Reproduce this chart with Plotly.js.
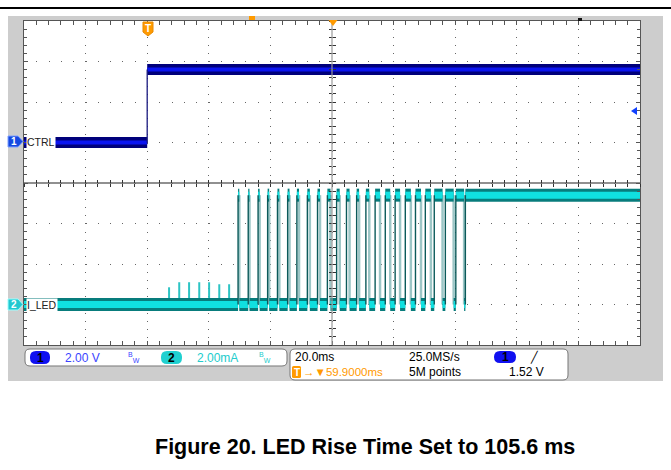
<!DOCTYPE html>
<html><head><meta charset="utf-8">
<script src="https://cdn.plot.ly/plotly-3.0.1.min.js"></script>
<style>html,body{margin:0;padding:0;background:#fff;}#chart{width:671px;height:470px;}</style>
</head><body><div id="chart"></div>
<script>
// ---------- data (time in ms relative to trigger) ----------
const timeRangeMs = [-40, 160];
const ctrlStepMs = 0;
const ctrlLowV = 0;
const ctrlHighV = 3.6;
const ledLowMa = 0;
const ledHighMa = 5.4;
const ledRiseMs = [29.5, 32.8, 36.0, 39.1, 42.3, 45.6, 48.6, 52.0, 55.3, 58.5, 61.5, 64.7, 68.0, 71.0, 74.0, 77.3, 80.5, 83.8, 87.1, 90.3, 93.2, 96.8, 100.2, 103.3];
const ledFallMs = [29.9, 33.2, 36.5, 39.6, 42.9, 46.2, 49.3, 52.8, 56.1, 59.5, 62.5, 65.7, 68.8, 72.1, 75.6, 78.9, 82.1, 85.6, 88.9, 92.1, 95.9, 99.5, 102.9];
const preSpikeMs = [7.1, 10.4, 13.6, 16.9, 20.1, 23.4, 26.6];
const preSpikeMa = [0.85, 1.1, 1.1, 1.1, 1.1, 1.0, 1.0];
const ch1Scale = "2.00 V";
const ch2Scale = "2.00mA";
const timeScale = "20.0ms";
const sampleRate = "25.0MS/s";
const recordLen = "5M points";
const trigDelay = "\u2192\u25BC59.9000ms";
const trigLevel = "1.52 V";
const ch1Label = "CTRL";
const ch2Label = "I_LED";
const caption = "Figure 20. LED Rise Time Set to 105.6 ms";

// ---------- geometry helpers (layout only) ----------
const L = 24, R = 640, T = 21, B = 345;
const px = x => (x - L) / (R - L);
const py = y => (B - y) / (B - T);
function P(x, y) { return px(x).toFixed(5) + ',' + py(y).toFixed(5); }
function rrect(x0, y0, x1, y1, r) {
  return `M${P(x0 + r, y0)} L${P(x1 - r, y0)} Q${P(x1, y0)} ${P(x1, y0 + r)} L${P(x1, y1 - r)} Q${P(x1, y1)} ${P(x1 - r, y1)} L${P(x0 + r, y1)} Q${P(x0, y1)} ${P(x0, y1 - r)} L${P(x0, y0 + r)} Q${P(x0, y0)} ${P(x0 + r, y0)} Z`;
}
function poly(pts) { return 'M' + pts.map(p => P(p[0], p[1])).join(' L') + ' Z'; }

// ---------- build traces ----------
const ctrlBandX = [timeRangeMs[0], ctrlStepMs, null, ctrlStepMs, timeRangeMs[1]];
const ctrlBandY = [ctrlLowV, ctrlLowV, null, ctrlHighV, ctrlHighV];

const lowX = [], lowY = [], highX = [], highY = [];
const riseX = [], riseY = [], fallX = [], fallY = [];
let prev = timeRangeMs[0];
for (let i = 0; i < ledRiseMs.length; i++) {
  lowX.push(prev, ledRiseMs[i], null); lowY.push(ledLowMa, ledLowMa, null);
  riseX.push(ledRiseMs[i], ledRiseMs[i], null); riseY.push(ledLowMa, ledHighMa, null);
  const f = i < ledFallMs.length ? ledFallMs[i] : timeRangeMs[1];
  highX.push(ledRiseMs[i], f, null); highY.push(ledHighMa, ledHighMa, null);
  if (i < ledFallMs.length) {
    fallX.push(f, f, null); fallY.push(ledHighMa, ledLowMa, null);
  }
  prev = f;
}
const spikeX = [], spikeY = [];
preSpikeMs.forEach((t, i) => { spikeX.push(t, t, null); spikeY.push(ledLowMa, preSpikeMa[i], null); });

const ledBandX = lowX.concat(highX), ledBandY = lowY.concat(highY);
const ln = (x, y, color, width, ya, xa) => ({x, y, type: 'scatter', mode: 'lines', xaxis: xa || 'x', yaxis: ya,
  line: {color, width}, hoverinfo: 'skip', showlegend: false, connectgaps: false});

const data = [
  ln(ctrlBandX, ctrlBandY, '#00007a', 11, 'y'),
  ln(ctrlBandX, ctrlBandY, '#0a14f0', 4, 'y'),
  ln([ctrlStepMs, ctrlStepMs], [ctrlLowV, ctrlHighV], '#1a1a80', 1.3, 'y'),
  ln(fallX, fallY, '#9cc6c6', 2.5, 'y2'),
  ln(spikeX, spikeY, '#2cc4c4', 2, 'y2'),
  ln(ledBandX, ledBandY, '#087c7c', 13, 'y2'),
  ln(ledBandX, ledBandY, '#10e0e0', 7, 'y2'),
  ln(riseX, riseY, '#0b5a5a', 1.4, 'y2'),
  // empty carriers so the centre graticule axes are drawn
  ln([null], [null], '#000', 1, 'y3', 'x2'),
  ln([null], [null], '#000', 1, 'y4', 'x3')
];

// ---------- layout ----------
const tickC = '#555';
const base = {showticklabels: false, fixedrange: true};
const centerX = (ticks) => Object.assign({}, base, {range: timeRangeMs, overlaying: 'x', anchor: 'free', position: 0.5,
  dtick: 20, tick0: -40, showgrid: false, zeroline: false, showline: false,
  ticks, ticklen: 3, tickcolor: '#333', minor: {dtick: 4, ticks, ticklen: 3, tickcolor: '#333', showgrid: false}});
const centerY = (ticks) => Object.assign({}, base, {range: [-4, 4], overlaying: 'y', anchor: 'free', position: 0.5,
  dtick: 1, tick0: 0, showgrid: false, zeroline: false, showline: false,
  ticks, ticklen: 3, tickcolor: '#333', minor: {dtick: 0.2, ticks, ticklen: 3, tickcolor: '#333', showgrid: false}});
const layout = {
  width: 671, height: 470,
  margin: {l: L, r: 671 - R, t: T, b: 470 - B, pad: 0},
  paper_bgcolor: '#ffffff', plot_bgcolor: '#ffffff',
  showlegend: false,
  xaxis: Object.assign({}, base, {range: timeRangeMs, dtick: 20, tick0: -40, showgrid: true, gridcolor: '#666',
    griddash: '1px,7.1px', gridwidth: 1, showline: true, mirror: 'allticks', linecolor: '#555', linewidth: 1,
    ticks: 'inside', ticklen: 4, tickcolor: tickC, zeroline: false,
    minor: {dtick: 4, ticks: 'inside', ticklen: 3, tickcolor: tickC, showgrid: false}}),
  yaxis: Object.assign({}, base, {range: [-10, 6], dtick: 2, tick0: 0, showgrid: true, gridcolor: '#666',
    griddash: '1px,11.3px', gridwidth: 1, showline: true, mirror: 'allticks', linecolor: '#555', linewidth: 1,
    ticks: 'inside', ticklen: 4, tickcolor: tickC, zeroline: false,
    minor: {dtick: 0.4, ticks: 'inside', ticklen: 3, tickcolor: tickC, showgrid: false}}),
  yaxis2: Object.assign({}, base, {range: [-2, 14], overlaying: 'y', showgrid: false, zeroline: false, showline: false, ticks: ''}),
  xaxis2: centerX('inside'),
  xaxis3: centerX('outside'),
  yaxis3: centerY('inside'),
  yaxis4: centerY('outside'),
  shapes: [
    {type: 'rect', xref: 'paper', yref: 'paper', x0: px(8), x1: px(663), y0: py(381), y1: py(16), fillcolor: '#cdcdcd', line: {width: 0}, layer: 'below'},
    {type: 'rect', xref: 'paper', yref: 'paper', x0: 0, x1: 1, y0: 0, y1: 1, fillcolor: '#ffffff', line: {width: 0}, layer: 'below'},
    {type: 'line', xref: 'paper', yref: 'paper', x0: px(0), x1: px(671), y0: py(8), y1: py(8), line: {color: '#000', width: 2}},
    // centre graticule lines
    {type: 'line', xref: 'paper', yref: 'paper', x0: 0, x1: 1, y0: 0.5, y1: 0.5, line: {color: '#222', width: 1.2}, layer: 'between'},
    {type: 'line', xref: 'paper', yref: 'paper', x0: 0.5, x1: 0.5, y0: 0, y1: 1, line: {color: '#999', width: 1.2}},
    // info boxes
    {type: 'path', xref: 'paper', yref: 'paper', path: rrect(25, 349, 287, 366, 5), fillcolor: '#fff', line: {color: '#777', width: 1}},
    {type: 'path', xref: 'paper', yref: 'paper', path: rrect(290, 349, 568, 380, 5), fillcolor: '#fff', line: {color: '#777', width: 1}},
    {type: 'path', xref: 'paper', yref: 'paper', path: rrect(30, 351, 50, 364, 6), fillcolor: '#1010f0', line: {width: 0}},
    {type: 'path', xref: 'paper', yref: 'paper', path: rrect(161, 351, 182, 364, 6), fillcolor: '#20d0d0', line: {width: 0}},
    {type: 'path', xref: 'paper', yref: 'paper', path: rrect(494, 351, 516, 363, 6), fillcolor: '#1010f0', line: {width: 0}},
    {type: 'path', xref: 'paper', yref: 'paper', path: rrect(292, 366, 301, 378, 1.5), fillcolor: '#ff9a00', line: {width: 0}},
    // channel markers
    {type: 'path', xref: 'paper', yref: 'paper', path: poly([[8, 136], [18, 136], [23, 141.5], [18, 147], [8, 147]]), fillcolor: '#1448e0', line: {color: '#7fa0ff', width: 1}},
    {type: 'path', xref: 'paper', yref: 'paper', path: poly([[8, 299], [18, 299], [23, 304.5], [18, 310], [8, 310]]), fillcolor: '#22c8d0', line: {color: '#9ff', width: 1}},
    // trigger marker T
    {type: 'path', xref: 'paper', yref: 'paper', path: poly([[143, 22], [153, 22], [153, 32], [148, 36], [143, 32]]), fillcolor: '#ff9a00', line: {color: '#e88a00', width: 1}},
    // top markers
    {type: 'path', xref: 'paper', yref: 'paper', path: poly([[328.5, 20], [337.5, 20], [333, 26]]), fillcolor: '#ff9a00', line: {width: 0}},
    {type: 'rect', xref: 'paper', yref: 'paper', x0: px(249), x1: px(255), y0: py(20), y1: py(16), fillcolor: '#ff9a00', line: {width: 0}},
    {type: 'rect', xref: 'paper', yref: 'paper', x0: px(578), x1: px(582), y0: py(21), y1: py(18), fillcolor: '#111', line: {width: 0}},
    // ch1 trigger level arrow
    {type: 'path', xref: 'paper', yref: 'paper', path: poly([[631, 111], [637, 107], [637, 115]]), fillcolor: '#1040ff', line: {width: 0}}
  ],
  annotations: []
};
const F = 'Liberation Sans, Arial, sans-serif';
function txt(x, y, text, color, size, opts) {
  layout.annotations.push(Object.assign({xref: 'paper', yref: 'paper', x: px(x), y: py(y), text, showarrow: false,
    xanchor: 'left', yanchor: 'middle', font: {family: F, size, color}}, opts || {}));
}
const bold = (size, color) => ({xanchor: 'center', font: {family: F, size, color, weight: 'bold'}});
txt(40, 357.5, '1', '#000', 12, bold(12, '#000'));
txt(63, 357.5, ch1Scale, '#3a44ff', 12);
txt(126, 357.5, '<sup>B</sup><sub>W</sub>', '#3a44ff', 10);
txt(171.5, 357.5, '2', '#000', 12, bold(12, '#000'));
txt(195, 357.5, ch2Scale, '#22cccc', 12);
txt(257, 357.5, '<sup>B</sup><sub>W</sub>', '#22cccc', 10);
txt(293, 357, timeScale, '#000', 12);
txt(407, 357, sampleRate, '#000', 12);
txt(505, 357, '1', '#000', 12, bold(12, '#000'));
txt(528, 357, '\u2571', '#000', 11);
txt(296.5, 372, 'T', '#fff', 10, bold(10, '#fff'));
txt(300.5, 372, trigDelay, '#ff9a00', 11.5);
txt(407, 372, recordLen, '#000', 12);
txt(507, 372, trigLevel, '#000', 12);
txt(14, 141.5, '1', '#fff', 10, bold(10, '#fff'));
txt(14, 304.5, '2', '#fff', 10, bold(10, '#fff'));
txt(26, 141.5, ch1Label, '#222', 10.5, {bgcolor: '#fff', borderpad: 0});
txt(26, 304.5, ch2Label, '#222', 10.5, {bgcolor: '#fff', borderpad: 0});
txt(148, 28.5, 'T', '#fff', 10, bold(10, '#fff'));
txt(365, 447, '<b>' + caption + '</b>', '#000', 21.5, {xanchor: 'center'});

Plotly.newPlot('chart', data, layout, {staticPlot: true, displayModeBar: false});
</script></body></html>
